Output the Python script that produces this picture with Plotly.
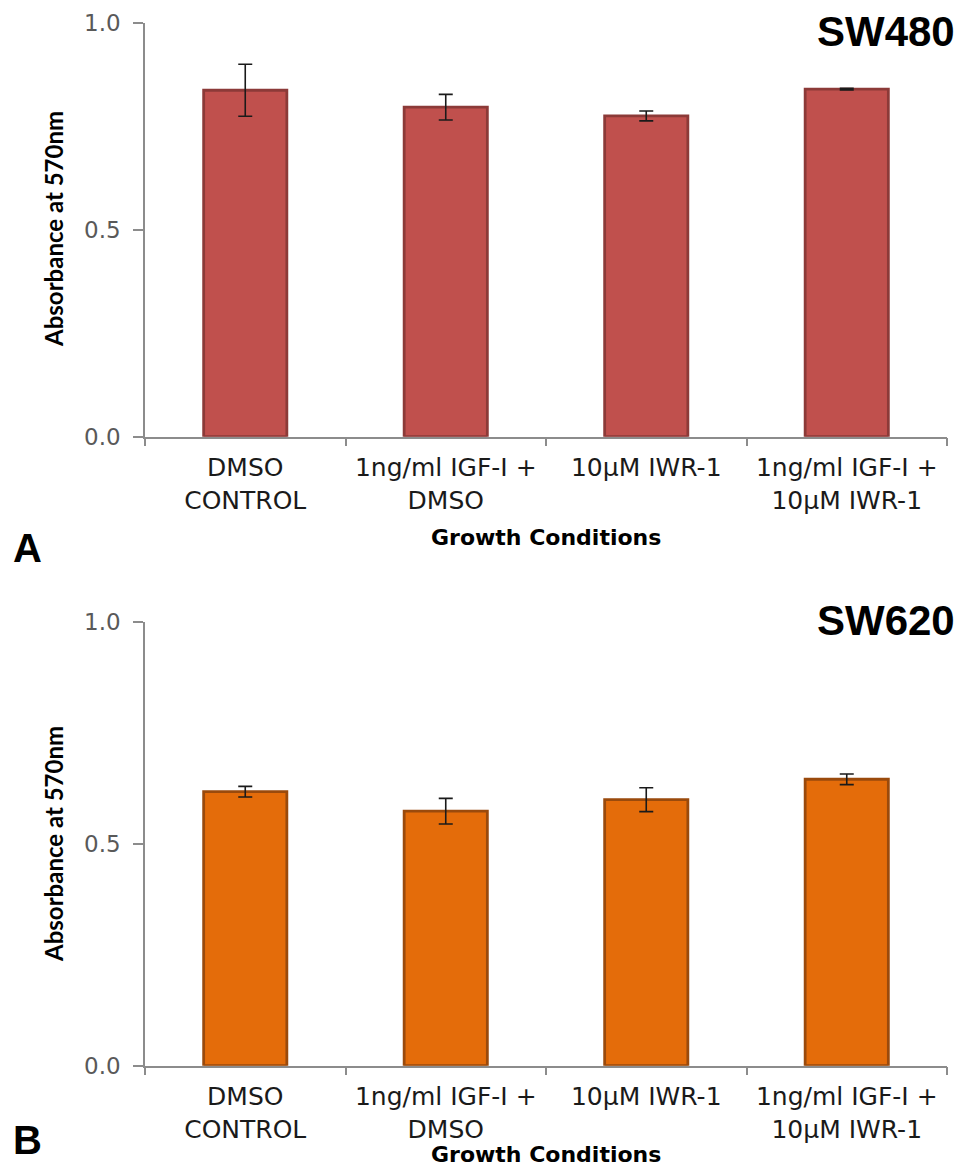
import plotly.graph_objects as go

categories = ["DMSO<br>CONTROL", "1ng/ml IGF-I +<br>DMSO", "10µM IWR-1", "1ng/ml IGF-I +<br>10µM IWR-1"]
sw480_values = [0.838, 0.797, 0.776, 0.841]
sw480_errors = [0.063, 0.031, 0.012, 0.002]
sw620_values = [0.618, 0.574, 0.600, 0.646]
sw620_errors = [0.012, 0.029, 0.027, 0.012]
y_tick_vals = [0.0, 0.5, 1.0]
y_tick_text = ["0.0", "0.5", "1.0"]

# page body has an 8px margin; work in reference pixel coords and shift
OFF = 8
W, H = 965 - OFF, 1171 - OFF
L = 145 - OFF
R = W - (946.7 - OFF)
PW = W - L - R

def fx(p):
    return (p - OFF - L) / PW

def fy(p):
    return 1 - (p - OFF) / H

fig = go.Figure()
fig.add_trace(go.Bar(
    x=categories, y=sw480_values, width=0.415,
    marker=dict(color="#C0504D", line=dict(color="#8C3A38", width=2.8)),
    error_y=dict(type="data", array=sw480_errors, color="#1a1a1a", thickness=1.6, width=7),
    xaxis="x", yaxis="y", showlegend=False))
fig.add_trace(go.Bar(
    x=categories, y=sw620_values, width=0.415,
    marker=dict(color="#E46C0A", line=dict(color="#9A4A0C", width=2.8)),
    error_y=dict(type="data", array=sw620_errors, color="#1a1a1a", thickness=1.6, width=7),
    xaxis="x2", yaxis="y2", showlegend=False))

axis_line = "#8c8c8c"
xcommon = dict(type="category", tickson="boundaries", ticks="outside", ticklen=8,
               tickcolor=axis_line, tickwidth=1.5, showline=True, linecolor=axis_line,
               linewidth=1.5, showgrid=False, zeroline=False,
               tickfont=dict(family="DejaVu Sans", size=25, color="#1a1a1a"),
               ticklabelstandoff=8, domain=[0, 1], automargin=False)
ycommon = dict(range=[0, 1.0], tickvals=y_tick_vals, ticktext=y_tick_text, ticks="outside",
               ticklen=10, tickcolor=axis_line, tickwidth=1.5, showline=True,
               linecolor=axis_line, linewidth=1.5, showgrid=False, zeroline=False,
               tickfont=dict(family="DejaVu Sans", size=23, color="#595959"),
               ticklabelstandoff=8, automargin=False)

fig.update_layout(
    width=W, height=H,
    margin=dict(l=L, r=R, t=0, b=0),
    paper_bgcolor="white", plot_bgcolor="white",
    xaxis=dict(**xcommon, anchor="y"),
    yaxis=dict(**ycommon, anchor="x", domain=[fy(436.7), fy(23.3)]),
    xaxis2=dict(**xcommon, anchor="y2"),
    yaxis2=dict(**ycommon, anchor="x2", domain=[fy(1065.7), fy(622.3)]),
)

ann = []
def add_text(text, x, y, size, family, xanchor="center", angle=0, color="black"):
    ann.append(dict(text=f"<b>{text}</b>", x=fx(x), y=fy(y),
                    xref="paper", yref="paper", xanchor=xanchor, yanchor="middle",
                    showarrow=False, textangle=angle,
                    font=dict(family=family, size=size, color=color)))

add_text("SW480", 957, 32, 42, "Liberation Sans", xanchor="right")
add_text("SW620", 957, 620, 42, "Liberation Sans", xanchor="right")
add_text("A", 28, 548, 40, "Liberation Sans")
add_text("B", 28, 1140, 40, "Liberation Sans")
add_text("Growth Conditions", 546, 537, 22, "DejaVu Sans")
add_text("Growth Conditions", 546, 1154, 22, "DejaVu Sans")
add_text("Absorbance at 570nm", 53, 229, 24, "Lato", angle=-90)
add_text("Absorbance at 570nm", 53, 844, 24, "Lato", angle=-90)

fig.update_layout(annotations=ann)
fig.write_html("out.html")
